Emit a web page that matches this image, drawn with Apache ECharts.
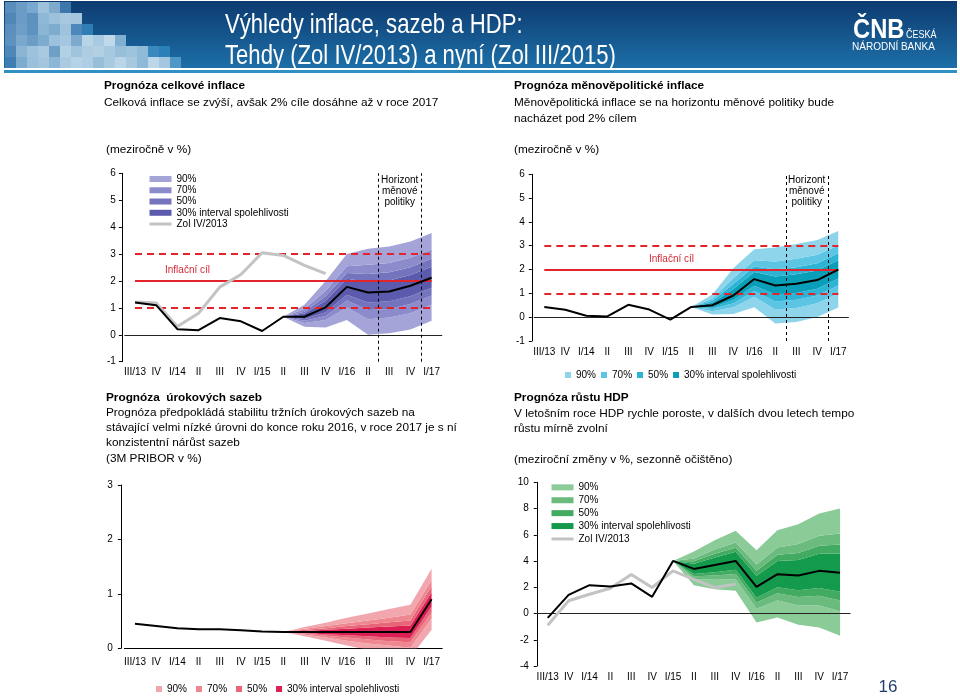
<!DOCTYPE html>
<html lang="cs">
<head>
<meta charset="utf-8">
<title>Výhledy inflace, sazeb a HDP</title>
<script src="https://cdn.jsdelivr.net/npm/echarts@6.0.0/dist/echarts.min.js"></script>
<style>
html,body{margin:0;padding:0;background:#fff;}
#chart{width:960px;height:696px;}
</style>
</head>
<body>
<div id="chart"></div>
<script>
// ---------------- DATA ----------------
const categories = ['III/13','IV','I/14','II','III','IV','I/15','II','III','IV','I/16','II','III','IV','I/17'];

// Prognóza celkové inflace (meziročně v %)
const headlineNow  = [1.2, 1.1, 0.21, 0.17, 0.62, 0.5, 0.14, 0.67, 0.67, 1.02, 1.78, 1.57, 1.61, 1.82, 2.12];
const headlineOld  = [1.22, 1.18, 0.31, 0.8, 1.77, 2.24, 3.05, 2.95, 2.58, 2.27, null, null, null, null, null];
const headlineLo90 = [null, null, null, null, null, null, null, 0.67, 0.30, 0.27, 0.55, 0.00, 0.06, 0.20, 0.52];
const headlineLo70 = [null, null, null, null, null, null, null, 0.67, 0.44, 0.55, 1.01, 0.58, 0.64, 0.80, 1.12];
const headlineLo50 = [null, null, null, null, null, null, null, 0.67, 0.52, 0.70, 1.27, 0.92, 0.96, 1.14, 1.46];
const headlineLo30 = [null, null, null, null, null, null, null, 0.67, 0.59, 0.84, 1.49, 1.20, 1.25, 1.43, 1.75];
const headlineHi30 = [null, null, null, null, null, null, null, 0.67, 0.79, 1.26, 2.08, 1.97, 2.02, 2.22, 2.53];
const headlineHi50 = [null, null, null, null, null, null, null, 0.67, 0.86, 1.43, 2.30, 2.26, 2.32, 2.51, 2.83];
const headlineHi70 = [null, null, null, null, null, null, null, 0.67, 0.96, 1.64, 2.55, 2.60, 2.67, 2.86, 3.17];
const headlineHi90 = [null, null, null, null, null, null, null, 0.67, 1.12, 2.00, 3.00, 3.20, 3.28, 3.47, 3.78];

// Prognóza měnověpolitické inflace (meziročně v %)
const mpNow  = [0.43, 0.31, 0.06, 0.03, 0.52, 0.32, -0.1, 0.43, 0.5, 0.91, 1.6, 1.33, 1.4, 1.56, 2.0];
const mpLo90 = [null, null, null, null, null, null, null, 0.43, 0.11, 0.13, 0.42, -0.27, -0.20, 0.01, 0.41];
const mpLo70 = [null, null, null, null, null, null, null, 0.43, 0.25, 0.42, 0.86, 0.32, 0.39, 0.58, 1.00];
const mpLo50 = [null, null, null, null, null, null, null, 0.43, 0.34, 0.58, 1.10, 0.66, 0.73, 0.91, 1.33];
const mpLo30 = [null, null, null, null, null, null, null, 0.43, 0.41, 0.72, 1.32, 0.95, 1.02, 1.19, 1.62];
const mpHi30 = [null, null, null, null, null, null, null, 0.43, 0.61, 1.18, 1.90, 1.71, 1.80, 1.96, 2.39];
const mpHi50 = [null, null, null, null, null, null, null, 0.43, 0.69, 1.39, 2.13, 2.00, 2.10, 2.27, 2.68];
const mpHi70 = [null, null, null, null, null, null, null, 0.43, 0.78, 1.63, 2.39, 2.34, 2.45, 2.62, 3.02];
const mpHi90 = [null, null, null, null, null, null, null, 0.43, 0.95, 2.05, 2.85, 2.93, 3.07, 3.24, 3.62];

// Prognóza úrokových sazeb (3M PRIBOR v %)
const rateNow  = [0.45, 0.41, 0.37, 0.35, 0.35, 0.33, 0.31, 0.3, 0.3, 0.3, 0.3, 0.3, 0.3, 0.3, 0.9];
const rateLo90 = [null, null, null, null, null, null, null, 0.30, 0.22, 0.14, 0.05, -0.03, -0.10, -0.16, 0.34];
const rateLo70 = [null, null, null, null, null, null, null, 0.30, 0.25, 0.20, 0.14, 0.09, 0.05, 0.01, 0.55];
const rateLo50 = [null, null, null, null, null, null, null, 0.30, 0.27, 0.23, 0.20, 0.16, 0.13, 0.11, 0.66];
const rateLo30 = [null, null, null, null, null, null, null, 0.30, 0.28, 0.26, 0.24, 0.22, 0.20, 0.19, 0.77];
const rateHi30 = [null, null, null, null, null, null, null, 0.30, 0.32, 0.34, 0.36, 0.38, 0.40, 0.42, 1.03];
const rateHi50 = [null, null, null, null, null, null, null, 0.30, 0.34, 0.37, 0.41, 0.44, 0.48, 0.51, 1.14];
const rateHi70 = [null, null, null, null, null, null, null, 0.30, 0.36, 0.41, 0.46, 0.51, 0.56, 0.62, 1.25];
const rateHi90 = [null, null, null, null, null, null, null, 0.30, 0.39, 0.47, 0.56, 0.64, 0.72, 0.80, 1.46];

// Prognóza růstu HDP (meziroční změny v %, sezonně očištěno)
const gdpNow  = [-0.33, 1.42, 2.16, 2.06, 2.29, 1.27, 4.01, 3.4, 3.7, 4.01, 2.03, 3.0, 2.9, 3.25, 3.1];
const gdpOld  = [-0.89, 0.97, 1.47, 1.93, 2.97, 1.98, 3.25, 2.6, 1.98, 2.24, null, null, null, null, null];
const gdpLo90 = [null, null, null, null, null, null, 4.01, 2.15, 1.85, 1.73, -0.69, -0.30, -0.86, -1.07, -1.70];
const gdpLo70 = [null, null, null, null, null, null, 4.01, 2.63, 2.57, 2.62, 0.37, 0.99, 0.61, 0.61, 0.17];
const gdpLo50 = [null, null, null, null, null, null, 4.01, 2.84, 2.89, 3.01, 0.83, 1.55, 1.25, 1.35, 1.00];
const gdpLo30 = [null, null, null, null, null, null, 4.01, 3.02, 3.15, 3.33, 1.21, 2.01, 1.77, 1.95, 1.66];
const gdpHi30 = [null, null, null, null, null, null, 4.01, 3.80, 4.27, 4.70, 2.87, 4.00, 4.07, 4.56, 4.57];
const gdpHi50 = [null, null, null, null, null, null, 4.01, 3.98, 4.55, 5.02, 3.26, 4.47, 4.62, 5.17, 5.26];
const gdpHi70 = [null, null, null, null, null, null, 4.01, 4.20, 4.87, 5.41, 3.74, 5.04, 5.29, 5.92, 6.09];
const gdpHi90 = [null, null, null, null, null, null, 4.01, 4.72, 5.58, 6.30, 4.83, 6.35, 6.81, 7.62, 8.00];

const inflationTarget = 2;
const toleranceBand = [1, 3];
const horizonQuarters = [12, 13];   // III/16 – IV/16

const legendLabels = ['90%', '70%', '50%', '30% interval spolehlivosti', 'Zol IV/2013'];

// ---------------- CHART ----------------
const FONT = '"Liberation Sans", Arial, Helvetica, sans-serif';
const chart = echarts.init(document.getElementById('chart'), null, {renderer: 'canvas', width: 960, height: 696});

const panels = [
  { p: 'A', grid: {left: 124.4, top: 173.3, width: 317.8, height: 188.4},
    y: {min: -1, max: 6, interval: 1, offset: 2.5, margin: 6}, xMargin: 6, xLine: false, zero: true,
    now: headlineNow, old: headlineOld, targets: true, horizon: true,
    bands: {lo90: headlineLo90, lo70: headlineLo70, lo50: headlineLo50, lo30: headlineLo30, hi30: headlineHi30, hi50: headlineHi50, hi70: headlineHi70, hi90: headlineHi90},
    colors: {'90': '#a4a4d8', '70': '#8c8bcb', '50': '#7473be', '30': '#5b5aad'} },
  { p: 'B', grid: {left: 533.8, top: 174.3, width: 315, height: 166.7},
    y: {min: -1, max: 6, interval: 1, offset: 2, margin: 7}, xMargin: 6.5, xLine: false, zero: true,
    now: mpNow, old: null, targets: true, horizon: true,
    bands: {lo90: mpLo90, lo70: mpLo70, lo50: mpLo50, lo30: mpLo30, hi30: mpHi30, hi50: mpHi50, hi70: mpHi70, hi90: mpHi90},
    colors: {'90': '#8ed5ec', '70': '#5cc5e3', '50': '#2db3d3', '30': '#0a9fb8'} },
  { p: 'C', grid: {left: 124.4, top: 485, width: 317.8, height: 163.3},
    y: {min: 0, max: 3, interval: 1, offset: 3.5, margin: 8}, xMargin: 8.5, xLine: true, zero: false,
    now: rateNow, old: null, targets: false, horizon: false,
    bands: {lo90: rateLo90, lo70: rateLo70, lo50: rateLo50, lo30: rateLo30, hi30: rateHi30, hi50: rateHi50, hi70: rateHi70, hi90: rateHi90},
    colors: {'90': '#f2a7ae', '70': '#ef8790', '50': '#e86577', '30': '#dc1f55'} },
  { p: 'D', grid: {left: 537.3, top: 482.3, width: 313.2, height: 183.7},
    y: {min: -4, max: 10, interval: 2, offset: 0.5, margin: 8}, xMargin: 6, xLine: false, zero: true,
    now: gdpNow, old: gdpOld, targets: false, horizon: false,
    bands: {lo90: gdpLo90, lo70: gdpLo70, lo50: gdpLo50, lo30: gdpLo30, hi30: gdpHi30, hi50: gdpHi50, hi70: gdpHi70, hi90: gdpHi90},
    colors: {'90': '#8acb98', '70': '#6abb7d', '50': '#43ab61', '30': '#149a4c'} }
];

const bandOrder = [['lo70','lo90','90'], ['lo50','lo70','70'], ['lo30','lo50','50'], ['hi30','lo30','30'], ['hi50','hi30','50'], ['hi70','hi50','70'], ['hi90','hi70','90']];
const diff = (up, lo) => up.map((v, i) => (v === null || lo[i] === null) ? null : Math.round((v - lo[i]) * 1000) / 1000);

const labelMap = {};
const grids = [], xAxes = [], yAxes = [], series = [];
const last = categories.length - 1;

panels.forEach((P, k) => {
  ['90','70','50','30'].forEach((l, i) => { labelMap[P.p + l] = legendLabels[i]; });
  labelMap[P.p + 'old'] = legendLabels[4];
  grids.push(Object.assign({containLabel: false, outerBoundsMode: 'none'}, P.grid));
  xAxes.push({
    type: 'category', gridIndex: k, data: categories, boundaryGap: true,
    axisLine: {show: P.xLine, onZero: false, lineStyle: {color: '#000', width: 1}},
    axisTick: {show: false}, splitLine: {show: false},
    axisLabel: {interval: 0, fontSize: 10, color: '#000', margin: P.xMargin, fontFamily: FONT}
  });
  xAxes.push({type: 'value', gridIndex: k, min: -0.5, max: 14.5, show: false});
  yAxes.push({
    type: 'value', gridIndex: k, min: P.y.min, max: P.y.max, interval: P.y.interval, offset: P.y.offset,
    axisLine: {show: true, onZero: false, lineStyle: {color: '#000', width: 1}},
    axisTick: {show: true, length: 3, lineStyle: {color: '#000'}},
    splitLine: {show: false},
    axisLabel: {fontSize: 10, color: '#000', margin: P.y.margin, fontFamily: FONT}
  });
  const common = {type: 'line', xAxisIndex: 2 * k, yAxisIndex: k, symbol: 'none', silent: true, animation: false, emphasis: {disabled: true}};
  series.push(Object.assign({}, common, {
    name: P.p + 'base', data: P.bands.lo90, stack: 'fan' + k, stackStrategy: 'all',
    lineStyle: {width: 0, opacity: 0}, z: 2
  }));
  bandOrder.forEach(([u, l, lev]) => {
    const col = P.colors[lev];
    series.push(Object.assign({}, common, {
      name: P.p + lev, data: diff(P.bands[u], P.bands[l]), stack: 'fan' + k, stackStrategy: 'all',
      color: col, itemStyle: {color: col}, lineStyle: {width: 0, opacity: 0},
      areaStyle: {color: col, opacity: 1}, z: 2
    }));
  });
  const ml = [];
  if (P.zero) ml.push({yAxis: 0, lineStyle: {color: '#222', width: 1, type: 'solid'}});
  if (P.targets) {
    ml.push([{coord: [0, inflationTarget], lineStyle: {color: '#e3242b', width: 2, type: 'solid'}}, {coord: [last, inflationTarget]}]);
    toleranceBand.forEach(v => ml.push([{coord: [0, v], lineStyle: {color: '#e3242b', width: 2, type: [7, 5]}}, {coord: [last, v]}]));
  }
  if (P.horizon) {
    ml.push({xAxis: horizonQuarters[0] - 0.5, lineStyle: {color: '#000', width: 1, type: [3, 3]}});
    ml.push({xAxis: horizonQuarters[1] + 0.5, lineStyle: {color: '#000', width: 1, type: [3, 3]}});
  }
  series.push({
    type: 'line', name: P.p + 'ann', xAxisIndex: 2 * k + 1, yAxisIndex: k, data: [], silent: true,
    markLine: {symbol: ['none', 'none'], silent: true, label: {show: false}, animation: false, emphasis: {disabled: true}, data: ml}
  });
  if (P.old) {
    series.push(Object.assign({}, common, {
      name: P.p + 'old', data: P.old, color: '#c3c3c3', itemStyle: {color: '#c3c3c3'},
      lineStyle: {color: '#c3c3c3', width: 3}, z: 5
    }));
  }
  series.push(Object.assign({}, common, {
    name: P.p + 'now', data: P.now, color: '#000', lineStyle: {color: '#000', width: 2}, z: 6
  }));
});

const legendFmt = name => labelMap[name] || name;
const bandLegend = p => ['90','70','50','30'].map(l => ({name: p + l, icon: 'rect'}));
const oldLegend = p => ({name: p + 'old', itemStyle: {opacity: 0, color: 'rgba(0,0,0,0)'}, lineStyle: {color: '#c3c3c3', width: 3}});
const legends = [
  {left: 148, top: 173.4, orient: 'vertical', itemWidth: 22, itemHeight: 6, itemGap: 0, padding: 0,
   selectedMode: false, formatter: legendFmt, textStyle: {fontSize: 10, lineHeight: 11.25, color: '#000', fontFamily: FONT},
   data: bandLegend('A').concat([oldLegend('A')])},
  {left: 565, top: 370, orient: 'horizontal', itemWidth: 6, itemHeight: 6, itemGap: 5, padding: 0,
   selectedMode: false, formatter: legendFmt, textStyle: {fontSize: 10, color: '#000', fontFamily: FONT},
   data: bandLegend('B')},
  {left: 156, top: 684, orient: 'horizontal', itemWidth: 6, itemHeight: 6, itemGap: 9, padding: 0,
   selectedMode: false, formatter: legendFmt, textStyle: {fontSize: 10, color: '#000', fontFamily: FONT},
   data: bandLegend('C')},
  {left: 550, top: 480.9, orient: 'vertical', itemWidth: 22, itemHeight: 6, itemGap: 0, padding: 0,
   selectedMode: false, formatter: legendFmt, textStyle: {fontSize: 10, lineHeight: 12.9, color: '#000', fontFamily: FONT},
   data: bandLegend('D').concat([oldLegend('D')])}
];

// ---------------- SLIDE DECORATION & TEXT ----------------
const mosaicRows = [
  ['#5a8fbd','#6b9cc6','#7aa8cf','#9fc2dc','#7faacb','#3d78ad'],
  ['#4f86b6','#6a9cc7','#5d92bf','#8fb8d6','#9cc1db','#a7c8df','#a3c5de'],
  ['#5b8fbd','#6e9fc8','#5e93c0','#8ab5d4','#7eacce','#9fc3dc','#4d86b8','#2f7db5'],
  ['#5d91be','#7aa9cd','#6b9dc6','#7daccf','#9cc1dc','#a4c7df','#7eaacd','#b8d4e7','#a9cbe1','#c0d9ea','#7fb0d2'],
  ['#4f87b8','#8ab5d4','#9dc2dc','#a8c9df','#6d9fc7','#b3d1e5','#a0c4dd','#aecde3','#b2cfe4','#a7c9e0','#98bfda','#9ec3dc','#8fbad8','#3a89be','#2c80b8'],
  ['#3f7db2','#7eacce','#9bc0db','#a3c6de','#8bb6d5','#a9cae0','#b5d2e6','#aecee3','#98bfda','#a9cbe1','#b9d5e8','#a6c9e0','#8fbad7','#bcd7e9','#a4c7df','#4f97c6']
];
const graphics = [];
graphics.push({type: 'rect', silent: true, z: 0, shape: {x: 4, y: 1, width: 953, height: 67},
  style: {fill: {type: 'linear', x: 0, y: 0, x2: 0, y2: 1, colorStops: [{offset: 0, color: '#0d3b70'}, {offset: 1, color: '#1d6fa8'}]}}});
mosaicRows.forEach((row, r) => row.forEach((c, j) => {
  graphics.push({type: 'rect', silent: true, z: 1, shape: {x: 5 + j * 11, y: 2 + r * 11, width: 11, height: 11}, style: {fill: c}});
}));
graphics.push({type: 'rect', silent: true, z: 1, shape: {x: 4, y: 70, width: 953, height: 3}, style: {fill: '#3190c2'}});

function txt(x, y, text, font, fill, align, extra, sx) {
  return Object.assign({type: 'text', x: x, y: y, silent: true, z: 10, scaleX: sx || 1,
    style: Object.assign({text: text, font: font, fill: fill || '#000', align: align || 'left', verticalAlign: 'middle',
      textAlign: align || 'left', textVerticalAlign: 'middle'}, extra || {})});
}
const body = '11.8px ' + FONT, bold = 'bold 11.8px ' + FONT, small = '10px ' + FONT;
graphics.push(
  txt(225, 25, 'Výhledy inflace, sazeb a HDP:', '28px ' + FONT, '#fff', 'left', null, 0.79),
  txt(225, 56, 'Tehdy (Zol IV/2013) a nyní (Zol III/2015)', '28px ' + FONT, '#fff', 'left', null, 0.79),
  txt(853, 31, 'ČNB', 'bold 27px ' + FONT, '#fff', 'left', null, 0.88),
  txt(906, 35, 'ČESKÁ', '10px ' + FONT, '#fff', 'left', null, 0.9),
  txt(852, 47, 'NÁRODNÍ BANKA', '11px ' + FONT, '#fff', 'left', null, 0.91),

  txt(104, 86, 'Prognóza celkové inflace', bold),
  txt(104, 103, 'Celková inflace se zvýší, avšak 2% cíle dosáhne až v roce 2017', body),
  txt(514, 86, 'Prognóza měnověpolitické inflace', bold),
  txt(514, 103, 'Měnověpolitická inflace se na horizontu měnové politiky bude', body),
  txt(514, 119, 'nacházet pod 2% cílem', body),
  txt(106, 150, '(meziročně v %)', body),
  txt(514, 150, '(meziročně v %)', body),

  txt(106, 397.5, 'Prognóza  úrokových sazeb', bold),
  txt(106, 413, 'Prognóza předpokládá stabilitu tržních úrokových sazeb na', body),
  txt(106, 428, 'stávající velmi nízké úrovni do konce roku 2016, v roce 2017 je s ní', body),
  txt(106, 443, 'konzistentní nárůst sazeb', body),
  txt(106, 458.5, '(3M PRIBOR v %)', body),

  txt(514, 398, 'Prognóza růstu HDP', bold),
  txt(514, 413.5, 'V letošním roce HDP rychle poroste, v dalších dvou letech tempo', body),
  txt(514, 429, 'růstu mírně zvolní', body),
  txt(514, 459.5, '(meziroční změny v %, sezonně očištěno)', body),

  txt(165, 270, 'Inflační cíl', small, '#d42a35'),
  txt(649, 259, 'Inflační cíl', small, '#d42a35'),
  txt(399.7, 191, 'Horizont\nměnové\npolitiky', small, '#000', 'center', {lineHeight: 11}),
  txt(806.7, 191, 'Horizont\nměnové\npolitiky', small, '#000', 'center', {lineHeight: 11}),

  txt(888, 687, '16', '17px ' + FONT, '#243f6b', 'center')
);

chart.setOption({
  animation: false,
  backgroundColor: '#fff',
  textStyle: {fontFamily: FONT},
  grid: grids,
  xAxis: xAxes,
  yAxis: yAxes,
  legend: legends,
  series: series,
  graphic: {elements: graphics}
});
</script>
</body>
</html>
